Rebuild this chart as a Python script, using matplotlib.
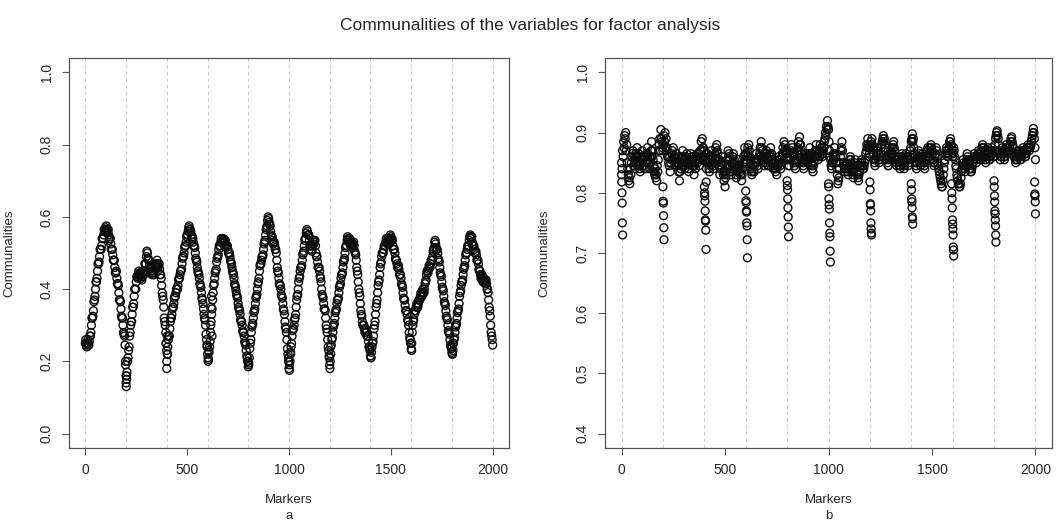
import numpy as np
import matplotlib
matplotlib.use("Agg")
import matplotlib.pyplot as plt

plt.rcParams['font.family'] = ['Liberation Sans', 'DejaVu Sans']

# marker index (every 5th marker, plus the in-between pass)
markers = np.arange(0, 2001, 5)
markers_mid = np.arange(2.5, 2000, 5)

# panel a: communalities, read every 5 markers
comm_a = [
    0.25, 0.245, 0.25, 0.25, 0.255, 0.27, 0.30, 0.32, 0.34, 0.37, 0.40, 0.42, 0.45, 0.47, 0.49, 0.51, 0.52, 0.54, 0.55, 0.56,
    0.57, 0.565, 0.56, 0.55, 0.54, 0.525, 0.51, 0.495, 0.48, 0.46, 0.445, 0.43, 0.415, 0.39, 0.37, 0.345, 0.32, 0.30, 0.275, 0.245,
    0.14, 0.17, 0.21, 0.24, 0.28, 0.31, 0.33, 0.35, 0.38, 0.40, 0.42, 0.435, 0.44, 0.445, 0.44, 0.43, 0.435, 0.44, 0.45, 0.47,
    0.49, 0.50, 0.48, 0.465, 0.46, 0.45, 0.445, 0.44, 0.455, 0.465, 0.47, 0.47, 0.465, 0.455, 0.44, 0.41, 0.38, 0.35, 0.31, 0.28,
    0.20, 0.24, 0.27, 0.29, 0.32, 0.33, 0.35, 0.36, 0.38, 0.39, 0.40, 0.41, 0.43, 0.44, 0.45, 0.47, 0.49, 0.50, 0.52, 0.53,
    0.55, 0.56, 0.575, 0.565, 0.55, 0.545, 0.53, 0.52, 0.50, 0.48, 0.46, 0.445, 0.43, 0.41, 0.39, 0.37, 0.345, 0.32, 0.30, 0.26,
    0.22, 0.205, 0.24, 0.28, 0.33, 0.37, 0.41, 0.43, 0.45, 0.475, 0.49, 0.51, 0.52, 0.53, 0.54, 0.535, 0.53, 0.53, 0.525, 0.52,
    0.51, 0.50, 0.49, 0.475, 0.46, 0.445, 0.43, 0.41, 0.395, 0.38, 0.36, 0.345, 0.33, 0.31, 0.30, 0.28, 0.27, 0.25, 0.23, 0.21,
    0.185, 0.21, 0.25, 0.28, 0.30, 0.32, 0.34, 0.36, 0.38, 0.40, 0.42, 0.45, 0.47, 0.48, 0.49, 0.51, 0.53, 0.55, 0.57, 0.59,
    0.595, 0.58, 0.56, 0.545, 0.535, 0.53, 0.52, 0.51, 0.48, 0.45, 0.43, 0.41, 0.40, 0.38, 0.36, 0.34, 0.31, 0.29, 0.26, 0.22,
    0.18, 0.20, 0.24, 0.27, 0.29, 0.30, 0.32, 0.35, 0.38, 0.40, 0.43, 0.45, 0.46, 0.48, 0.50, 0.52, 0.54, 0.555, 0.56, 0.55,
    0.535, 0.52, 0.51, 0.52, 0.535, 0.53, 0.52, 0.49, 0.475, 0.46, 0.45, 0.43, 0.40, 0.38, 0.36, 0.345, 0.32, 0.29, 0.26, 0.23,
    0.19, 0.22, 0.26, 0.28, 0.30, 0.32, 0.34, 0.36, 0.37, 0.39, 0.41, 0.43, 0.44, 0.46, 0.48, 0.50, 0.52, 0.535, 0.54, 0.535,
    0.53, 0.525, 0.52, 0.525, 0.52, 0.50, 0.48, 0.45, 0.42, 0.39, 0.36, 0.33, 0.31, 0.30, 0.29, 0.285, 0.28, 0.27, 0.255, 0.24,
    0.215, 0.225, 0.25, 0.27, 0.30, 0.33, 0.36, 0.39, 0.42, 0.44, 0.47, 0.49, 0.50, 0.51, 0.52, 0.53, 0.535, 0.53, 0.535, 0.54,
    0.545, 0.54, 0.52, 0.51, 0.50, 0.48, 0.47, 0.46, 0.455, 0.44, 0.43, 0.41, 0.39, 0.37, 0.355, 0.34, 0.33, 0.31, 0.28, 0.26,
    0.235, 0.28, 0.31, 0.33, 0.34, 0.35, 0.355, 0.36, 0.37, 0.38, 0.385, 0.39, 0.39, 0.40, 0.42, 0.44, 0.45, 0.455, 0.46, 0.47,
    0.48, 0.49, 0.51, 0.53, 0.525, 0.51, 0.50, 0.48, 0.46, 0.44, 0.42, 0.40, 0.38, 0.36, 0.34, 0.32, 0.30, 0.28, 0.26, 0.24,
    0.225, 0.23, 0.26, 0.28, 0.30, 0.32, 0.34, 0.36, 0.39, 0.41, 0.42, 0.44, 0.46, 0.48, 0.50, 0.51, 0.52, 0.535, 0.55, 0.545,
    0.53, 0.52, 0.51, 0.50, 0.495, 0.48, 0.47, 0.45, 0.44, 0.435, 0.43, 0.425, 0.425, 0.42, 0.415, 0.40, 0.37, 0.34, 0.30, 0.27,
    0.245,
]

# panel a, second pass at the in-between markers (the other edge of the band)
comm_a_mid = [
    0.26, 0.24, 0.26, 0.245, 0.27, 0.28, 0.32, 0.325, 0.365, 0.38, 0.42, 0.43, 0.47, 0.475, 0.51, 0.51, 0.54, 0.54, 0.565, 0.56,
    0.575, 0.555, 0.565, 0.535, 0.54, 0.51, 0.51, 0.48, 0.48, 0.445, 0.45, 0.415, 0.41, 0.37, 0.365, 0.325, 0.32, 0.28, 0.27, 0.20,
    0.16, 0.20, 0.23, 0.27, 0.30, 0.31, 0.35, 0.36, 0.40, 0.40, 0.435, 0.43, 0.45, 0.435, 0.445, 0.425, 0.445, 0.44, 0.47, 0.47,
    0.505, 0.485, 0.48, 0.455, 0.46, 0.44, 0.45, 0.44, 0.47, 0.46, 0.48, 0.46, 0.47, 0.44, 0.43, 0.39, 0.37, 0.32, 0.30, 0.25,
    0.22, 0.26, 0.27, 0.31, 0.32, 0.345, 0.35, 0.375, 0.38, 0.40, 0.40, 0.425, 0.43, 0.45, 0.455, 0.485, 0.49, 0.515, 0.52, 0.545,
    0.55, 0.57, 0.565, 0.56, 0.54, 0.54, 0.52, 0.515, 0.485, 0.475, 0.45, 0.44, 0.415, 0.405, 0.375, 0.36, 0.33, 0.315, 0.275, 0.245,
    0.20, 0.225, 0.255, 0.31, 0.345, 0.39, 0.415, 0.445, 0.455, 0.485, 0.495, 0.52, 0.52, 0.54, 0.53, 0.54, 0.52, 0.535, 0.515, 0.52,
    0.50, 0.50, 0.48, 0.47, 0.45, 0.44, 0.415, 0.405, 0.385, 0.375, 0.35, 0.34, 0.315, 0.31, 0.285, 0.28, 0.255, 0.245, 0.215, 0.20,
    0.195, 0.235, 0.26, 0.295, 0.305, 0.335, 0.345, 0.375, 0.385, 0.415, 0.43, 0.465, 0.47, 0.49, 0.495, 0.525, 0.535, 0.565, 0.575, 0.60,
    0.585, 0.575, 0.55, 0.545, 0.525, 0.53, 0.51, 0.50, 0.46, 0.445, 0.415, 0.41, 0.385, 0.375, 0.345, 0.33, 0.295, 0.28, 0.235, 0.21,
    0.19, 0.225, 0.25, 0.285, 0.29, 0.315, 0.33, 0.37, 0.385, 0.42, 0.435, 0.46, 0.465, 0.495, 0.505, 0.535, 0.54, 0.565, 0.55, 0.55,
    0.52, 0.52, 0.505, 0.535, 0.525, 0.535, 0.50, 0.49, 0.46, 0.46, 0.435, 0.42, 0.385, 0.375, 0.345, 0.34, 0.30, 0.28, 0.24, 0.215,
    0.20, 0.245, 0.265, 0.295, 0.305, 0.335, 0.345, 0.37, 0.375, 0.405, 0.415, 0.44, 0.445, 0.475, 0.485, 0.515, 0.52, 0.545, 0.53, 0.54,
    0.52, 0.53, 0.515, 0.53, 0.505, 0.495, 0.46, 0.44, 0.40, 0.38, 0.34, 0.325, 0.30, 0.30, 0.28, 0.29, 0.27, 0.27, 0.24, 0.235,
    0.21, 0.24, 0.255, 0.29, 0.31, 0.35, 0.37, 0.41, 0.425, 0.46, 0.475, 0.50, 0.50, 0.52, 0.52, 0.54, 0.525, 0.54, 0.53, 0.55,
    0.535, 0.535, 0.51, 0.51, 0.485, 0.48, 0.46, 0.465, 0.44, 0.44, 0.415, 0.405, 0.375, 0.37, 0.34, 0.34, 0.315, 0.30, 0.265, 0.25,
    0.25, 0.30, 0.315, 0.34, 0.34, 0.36, 0.35, 0.37, 0.37, 0.39, 0.38, 0.40, 0.39, 0.415, 0.425, 0.45, 0.445, 0.465, 0.46, 0.48,
    0.48, 0.505, 0.515, 0.535, 0.515, 0.51, 0.485, 0.475, 0.445, 0.435, 0.405, 0.395, 0.365, 0.355, 0.325, 0.315, 0.285, 0.275, 0.245, 0.235,
    0.22, 0.25, 0.265, 0.295, 0.305, 0.335, 0.345, 0.38, 0.395, 0.42, 0.425, 0.455, 0.465, 0.495, 0.50, 0.52, 0.52, 0.545, 0.54, 0.545,
    0.52, 0.52, 0.50, 0.505, 0.48, 0.48, 0.455, 0.45, 0.43, 0.44, 0.42, 0.43, 0.415, 0.425, 0.40, 0.39, 0.35, 0.325, 0.28, 0.26,
]

# extra scattered points around the troughs of panel a
extra_a_x = [198, 200, 201, 203, 396, 399, 400, 402, 404, 598, 603, 606, 616, 618, 620, 622,
             798, 802, 998, 1002, 1008, 1198, 1201, 1204, 1398, 1402, 1598, 1602, 1798, 1802, 1806]
extra_a_y = [0.19, 0.16, 0.13, 0.15, 0.25, 0.23, 0.18, 0.27, 0.22, 0.24, 0.21, 0.23, 0.30, 0.35, 0.38, 0.27,
             0.20, 0.19, 0.20, 0.175, 0.22, 0.21, 0.18, 0.24, 0.23, 0.21, 0.25, 0.23, 0.24, 0.22, 0.25]

# panel b: communalities, read every 5 markers
comm_b = [
    0.85, 0.87, 0.885, 0.895, 0.90, 0.88, 0.84, 0.82, 0.815, 0.83, 0.86, 0.87, 0.855, 0.84, 0.865, 0.875, 0.86, 0.845, 0.835, 0.855,
    0.87, 0.86, 0.84, 0.85, 0.865, 0.875, 0.855, 0.84, 0.85, 0.885, 0.87, 0.845, 0.83, 0.825, 0.82, 0.835, 0.87, 0.89, 0.905, 0.885,
    0.87, 0.895, 0.90, 0.89, 0.875, 0.86, 0.845, 0.835, 0.855, 0.87, 0.875, 0.86, 0.845, 0.865, 0.85, 0.835, 0.82, 0.84, 0.86, 0.87,
    0.855, 0.84, 0.86, 0.865, 0.85, 0.835, 0.855, 0.865, 0.86, 0.845, 0.83, 0.85, 0.86, 0.865, 0.855, 0.845, 0.87, 0.885, 0.89, 0.875,
    0.87, 0.855, 0.84, 0.865, 0.855, 0.835, 0.845, 0.87, 0.86, 0.84, 0.855, 0.875, 0.88, 0.865, 0.845, 0.83, 0.85, 0.86, 0.835, 0.82,
    0.81, 0.83, 0.855, 0.87, 0.865, 0.845, 0.83, 0.85, 0.865, 0.855, 0.84, 0.825, 0.835, 0.855, 0.845, 0.83, 0.82, 0.84, 0.86, 0.875,
    0.865, 0.85, 0.875, 0.88, 0.86, 0.84, 0.83, 0.845, 0.835, 0.85, 0.865, 0.855, 0.84, 0.86, 0.875, 0.885, 0.87, 0.85, 0.845, 0.865,
    0.87, 0.855, 0.845, 0.86, 0.875, 0.865, 0.85, 0.84, 0.845, 0.835, 0.83, 0.845, 0.86, 0.855, 0.84, 0.86, 0.875, 0.885, 0.88, 0.865,
    0.87, 0.855, 0.845, 0.86, 0.88, 0.875, 0.86, 0.845, 0.84, 0.855, 0.87, 0.885, 0.893, 0.88, 0.865, 0.85, 0.84, 0.855, 0.865, 0.86,
    0.85, 0.865, 0.875, 0.86, 0.845, 0.835, 0.85, 0.87, 0.88, 0.865, 0.855, 0.87, 0.88, 0.875, 0.86, 0.87, 0.885, 0.90, 0.91, 0.92,
    0.905, 0.87, 0.855, 0.84, 0.85, 0.865, 0.875, 0.86, 0.84, 0.815, 0.825, 0.85, 0.87, 0.885, 0.86, 0.845, 0.835, 0.85, 0.84, 0.83,
    0.845, 0.86, 0.85, 0.835, 0.825, 0.84, 0.855, 0.845, 0.83, 0.82, 0.835, 0.85, 0.855, 0.845, 0.84, 0.85, 0.865, 0.88, 0.89, 0.875,
    0.86, 0.885, 0.89, 0.875, 0.855, 0.845, 0.86, 0.875, 0.865, 0.85, 0.86, 0.875, 0.885, 0.895, 0.89, 0.875, 0.86, 0.85, 0.845, 0.86,
    0.87, 0.86, 0.875, 0.885, 0.87, 0.855, 0.845, 0.86, 0.85, 0.84, 0.855, 0.865, 0.855, 0.84, 0.85, 0.865, 0.86, 0.845, 0.855, 0.87,
    0.885, 0.898, 0.89, 0.865, 0.85, 0.84, 0.855, 0.87, 0.86, 0.845, 0.855, 0.865, 0.85, 0.84, 0.855, 0.87, 0.875, 0.86, 0.875, 0.88,
    0.87, 0.855, 0.845, 0.86, 0.875, 0.86, 0.845, 0.835, 0.825, 0.815, 0.81, 0.83, 0.85, 0.865, 0.875, 0.86, 0.87, 0.885, 0.89, 0.875,
    0.86, 0.875, 0.86, 0.845, 0.83, 0.82, 0.815, 0.81, 0.825, 0.84, 0.855, 0.845, 0.835, 0.85, 0.865, 0.855, 0.845, 0.84, 0.835, 0.845,
    0.855, 0.865, 0.86, 0.85, 0.86, 0.87, 0.865, 0.855, 0.87, 0.88, 0.875, 0.86, 0.85, 0.865, 0.875, 0.86, 0.855, 0.87, 0.875, 0.865,
    0.86, 0.88, 0.895, 0.903, 0.89, 0.87, 0.855, 0.86, 0.875, 0.865, 0.855, 0.87, 0.88, 0.875, 0.865, 0.875, 0.885, 0.893, 0.88, 0.865,
    0.86, 0.85, 0.855, 0.865, 0.87, 0.86, 0.855, 0.865, 0.875, 0.87, 0.86, 0.865, 0.875, 0.88, 0.87, 0.875, 0.885, 0.895, 0.907, 0.89,
    0.855,
]

# panel b, second pass at the in-between markers
comm_b_mid = [
    0.84, 0.86, 0.875, 0.89, 0.87, 0.85, 0.83, 0.825, 0.84, 0.85, 0.865, 0.845, 0.86, 0.85, 0.86, 0.85, 0.865, 0.84, 0.85, 0.86,
    0.855, 0.845, 0.86, 0.84, 0.855, 0.865, 0.85, 0.86, 0.87, 0.86, 0.855, 0.835, 0.84, 0.83, 0.845, 0.855, 0.88, 0.87, 0.89, 0.875,
    0.88, 0.885, 0.875, 0.87, 0.86, 0.85, 0.86, 0.85, 0.865, 0.855, 0.86, 0.85, 0.855, 0.845, 0.86, 0.845, 0.835, 0.85, 0.845, 0.86,
    0.845, 0.855, 0.85, 0.855, 0.84, 0.85, 0.845, 0.855, 0.85, 0.86, 0.845, 0.84, 0.855, 0.85, 0.865, 0.855, 0.86, 0.87, 0.875, 0.86,
    0.855, 0.865, 0.85, 0.85, 0.84, 0.85, 0.86, 0.855, 0.85, 0.845, 0.865, 0.86, 0.87, 0.855, 0.855, 0.84, 0.845, 0.85, 0.83, 0.835,
    0.825, 0.84, 0.845, 0.86, 0.855, 0.835, 0.84, 0.86, 0.85, 0.845, 0.83, 0.84, 0.845, 0.84, 0.835, 0.84, 0.83, 0.85, 0.85, 0.865,
    0.855, 0.86, 0.865, 0.87, 0.85, 0.835, 0.84, 0.835, 0.845, 0.855, 0.85, 0.845, 0.855, 0.865, 0.86, 0.875, 0.855, 0.86, 0.855, 0.85,
    0.86, 0.845, 0.855, 0.865, 0.86, 0.855, 0.84, 0.85, 0.84, 0.84, 0.845, 0.855, 0.85, 0.845, 0.85, 0.865, 0.865, 0.87, 0.87, 0.855,
    0.86, 0.845, 0.855, 0.87, 0.865, 0.865, 0.85, 0.855, 0.85, 0.865, 0.875, 0.87, 0.88, 0.87, 0.855, 0.845, 0.85, 0.86, 0.855, 0.85,
    0.86, 0.855, 0.865, 0.85, 0.84, 0.845, 0.86, 0.86, 0.87, 0.86, 0.865, 0.86, 0.87, 0.865, 0.865, 0.875, 0.89, 0.895, 0.905, 0.91,
    0.885, 0.86, 0.845, 0.85, 0.86, 0.855, 0.865, 0.85, 0.83, 0.82, 0.84, 0.86, 0.875, 0.87, 0.85, 0.84, 0.845, 0.84, 0.835, 0.84,
    0.855, 0.855, 0.84, 0.83, 0.835, 0.85, 0.845, 0.835, 0.825, 0.83, 0.845, 0.845, 0.85, 0.84, 0.845, 0.855, 0.87, 0.875, 0.88, 0.865,
    0.875, 0.88, 0.88, 0.865, 0.85, 0.855, 0.865, 0.87, 0.855, 0.855, 0.865, 0.88, 0.89, 0.885, 0.88, 0.87, 0.855, 0.845, 0.855, 0.865,
    0.865, 0.865, 0.88, 0.875, 0.86, 0.85, 0.855, 0.855, 0.845, 0.845, 0.86, 0.86, 0.845, 0.845, 0.855, 0.86, 0.855, 0.85, 0.86, 0.875,
    0.89, 0.885, 0.875, 0.86, 0.845, 0.85, 0.86, 0.865, 0.855, 0.85, 0.86, 0.86, 0.845, 0.85, 0.86, 0.87, 0.865, 0.865, 0.87, 0.875,
    0.865, 0.85, 0.85, 0.865, 0.87, 0.85, 0.84, 0.83, 0.82, 0.81, 0.82, 0.84, 0.855, 0.87, 0.865, 0.865, 0.875, 0.885, 0.88, 0.87,
    0.865, 0.87, 0.855, 0.84, 0.825, 0.815, 0.81, 0.815, 0.835, 0.845, 0.85, 0.84, 0.845, 0.855, 0.86, 0.85, 0.84, 0.835, 0.84, 0.85,
    0.86, 0.86, 0.855, 0.855, 0.865, 0.865, 0.86, 0.86, 0.875, 0.875, 0.87, 0.855, 0.855, 0.87, 0.87, 0.855, 0.86, 0.865, 0.87, 0.86,
    0.87, 0.89, 0.90, 0.895, 0.88, 0.865, 0.86, 0.865, 0.87, 0.86, 0.86, 0.875, 0.875, 0.87, 0.87, 0.88, 0.89, 0.885, 0.875, 0.86,
    0.855, 0.855, 0.86, 0.87, 0.865, 0.855, 0.86, 0.87, 0.87, 0.865, 0.86, 0.87, 0.875, 0.875, 0.875, 0.88, 0.89, 0.90, 0.90, 0.875,
]

# the low columns that hang under the band at every 200th marker
drop_b_x = [0, 1, 2, 3, 4, 5,
            200, 201, 202, 203, 204, 205,
            400, 401, 402, 403, 404, 405, 406, 407, 408, 409,
            600, 601, 602, 603, 604, 605, 606, 607, 608,
            800, 801, 802, 803, 804, 805, 806, 807,
            1000, 1001, 1002, 1003, 1004, 1005, 1006, 1007, 1008, 1009,
            1200, 1201, 1202, 1203, 1204, 1205, 1206, 1207, 1208,
            1400, 1401, 1402, 1403, 1404, 1405, 1406, 1407,
            1595, 1596, 1597, 1598, 1599, 1600, 1601, 1602, 1603, 1604, 1605,
            1800, 1801, 1802, 1803, 1804, 1805, 1806, 1807, 1808, 1809,
            1996, 1997, 1998, 1999, 2000]
drop_b_y = [0.83, 0.818, 0.80, 0.783, 0.75, 0.73,
            0.81, 0.786, 0.783, 0.762, 0.742, 0.722,
            0.81, 0.80, 0.795, 0.786, 0.77, 0.755, 0.753, 0.738, 0.706, 0.818,
            0.803, 0.787, 0.784, 0.77, 0.768, 0.75, 0.745, 0.722, 0.692,
            0.82, 0.812, 0.805, 0.79, 0.775, 0.76, 0.743, 0.727,
            0.815, 0.81, 0.79, 0.78, 0.773, 0.75, 0.733, 0.727, 0.703, 0.685,
            0.818, 0.805, 0.782, 0.78, 0.77, 0.75, 0.74, 0.733, 0.73,
            0.815, 0.805, 0.79, 0.785, 0.775, 0.76, 0.757, 0.748,
            0.815, 0.80, 0.79, 0.775, 0.755, 0.748, 0.74, 0.73, 0.71, 0.705, 0.695,
            0.82, 0.81, 0.795, 0.785, 0.77, 0.765, 0.755, 0.745, 0.73, 0.718,
            0.818, 0.798, 0.795, 0.785, 0.765]

grid_x = np.arange(0, 2001, 200)
text_col = '#262626'
axis_col = '#555555'

fig = plt.figure(figsize=(10.61, 5.30), dpi=100)
ax_a = fig.add_axes([69 / 1061, 1 - 448 / 530, 440 / 1061, 390 / 530])
ax_b = fig.add_axes([605 / 1061, 1 - 448 / 530, 447 / 1061, 390 / 530])


def style_axis(ax, ylim, yticks, sub):
    for gx in grid_x:
        ax.axvline(gx, color='#c8c8c8', lw=0.8, ls=(0, (3, 3)), zorder=0)
    ax.set_xlim(-80, 2080)
    ax.set_ylim(*ylim)
    ax.set_xticks([0, 500, 1000, 1500, 2000])
    ax.set_yticks(yticks)
    ax.set_yticklabels([f'{t:.1f}' for t in yticks], rotation=90, va='center')
    ax.tick_params(direction='out', length=5, width=0.8, color=axis_col,
                   labelsize=10, labelcolor=text_col)
    ax.tick_params(axis='x', pad=6)
    ax.tick_params(axis='y', pad=6)
    for s in ax.spines.values():
        s.set_color(axis_col)
        s.set_linewidth(0.9)
    ax.text(0.5, -0.133, 'Markers', transform=ax.transAxes, ha='center', va='center',
            fontsize=9.5, color=text_col)
    ax.text(0.5, -0.175, sub, transform=ax.transAxes, ha='center', va='center',
            fontsize=9.5, color=text_col)
    ax.set_ylabel('Communalities', fontsize=9.5, color=text_col)
    ax.yaxis.set_label_coords(-0.123, 0.5)


pt_style = dict(s=32, facecolors='none', edgecolors='#0d0d0d', linewidths=1.0, zorder=2)

ax_a.scatter(markers, comm_a, **pt_style)
ax_a.scatter(markers_mid, comm_a_mid, **pt_style)
ax_a.scatter(extra_a_x, extra_a_y, **pt_style)
style_axis(ax_a, (-0.04, 1.04), [0.0, 0.2, 0.4, 0.6, 0.8, 1.0], 'a')

ax_b.scatter(markers, comm_b, **pt_style)
ax_b.scatter(markers_mid, comm_b_mid, **pt_style)
ax_b.scatter(drop_b_x, drop_b_y, **pt_style)
style_axis(ax_b, (0.376, 1.024), [0.4, 0.5, 0.6, 0.7, 0.8, 0.9, 1.0], 'b')

fig.suptitle('Communalities of the variables for factor analysis', y=0.966,
             fontsize=12.5, color=text_col)

fig.savefig('out.png', dpi=100)
